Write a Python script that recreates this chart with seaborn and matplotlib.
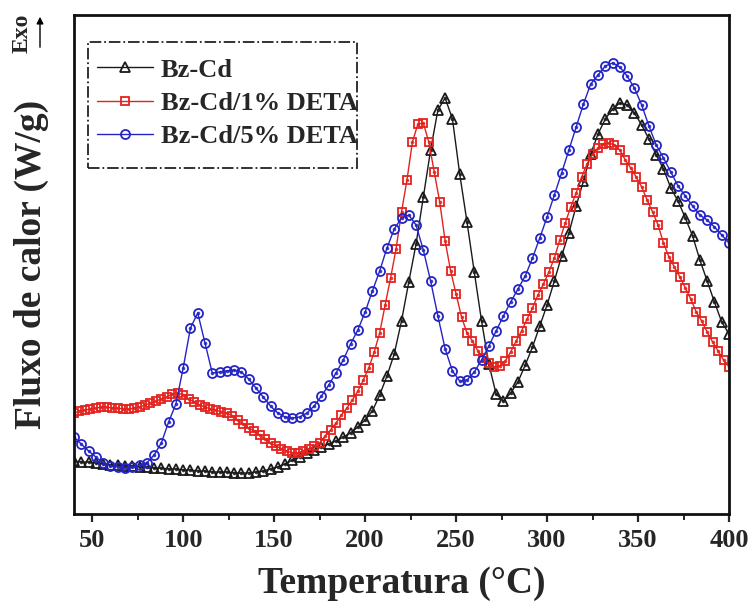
import numpy as np
import pandas as pd
import matplotlib
matplotlib.use("Agg")
import matplotlib.pyplot as plt
from matplotlib.patches import Rectangle, FancyArrowPatch
import seaborn as sns

# ---------------- data (arbitrary heat-flow units) ----------------
t_black = list(range(40, 401, 4))
y_black = [0.53, 0.52, 0.52, 0.51, 0.50, 0.49, 0.49, 0.48, 0.48, 0.47,
           0.47, 0.46, 0.46, 0.45, 0.45, 0.44, 0.44, 0.43, 0.43, 0.42,
           0.42, 0.42, 0.41, 0.41, 0.41, 0.42, 0.43, 0.45, 0.47, 0.50,
           0.54, 0.57, 0.61, 0.64, 0.67, 0.70, 0.73, 0.77, 0.81, 0.87,
           0.94, 1.03, 1.19, 1.38, 1.60, 1.93, 2.32, 2.70, 3.17, 3.64,
           4.04, 4.16, 3.95, 3.40, 2.92, 2.42, 1.93, 1.50, 1.20, 1.13,
           1.21, 1.32, 1.49, 1.67, 1.88, 2.09, 2.33, 2.58, 2.81, 3.08,
           3.33, 3.60, 3.80, 3.95, 4.05, 4.11, 4.09, 4.01, 3.89, 3.75,
           3.59, 3.45, 3.26, 3.13, 2.96, 2.78, 2.54, 2.33, 2.12, 1.92,
           1.80]

t_red = list(range(40, 401, 3))
y_red = [1.01, 1.03, 1.04, 1.05, 1.06, 1.07, 1.07, 1.06, 1.06, 1.05,
         1.05, 1.06, 1.07, 1.09, 1.11, 1.13, 1.15, 1.17, 1.20, 1.21,
         1.19, 1.15, 1.12, 1.09, 1.07, 1.05, 1.04, 1.02, 1.01, 0.98,
         0.94, 0.90, 0.86, 0.83, 0.79, 0.75, 0.71, 0.68, 0.65, 0.63,
         0.61, 0.61, 0.63, 0.65, 0.68, 0.71, 0.78, 0.84, 0.91, 0.99,
         1.06, 1.14, 1.23, 1.34, 1.46, 1.62, 1.81, 2.09, 2.36, 2.65,
         3.02, 3.34, 3.72, 3.90, 3.91, 3.72, 3.42, 3.12, 2.73, 2.43,
         2.20, 1.97, 1.81, 1.73, 1.63, 1.56, 1.51, 1.47, 1.48, 1.53,
         1.62, 1.73, 1.83, 1.95, 2.06, 2.19, 2.30, 2.42, 2.56, 2.74,
         2.91, 3.07, 3.21, 3.37, 3.50, 3.60, 3.66, 3.70, 3.71, 3.69,
         3.64, 3.54, 3.46, 3.37, 3.27, 3.14, 3.02, 2.89, 2.71, 2.57,
         2.47, 2.37, 2.26, 2.15, 2.02, 1.93, 1.82, 1.72, 1.63, 1.54,
         1.47]

t_blue = list(range(40, 401, 4))
y_blue = [0.77, 0.70, 0.63, 0.57, 0.51, 0.48, 0.47, 0.46, 0.47, 0.49,
          0.51, 0.59, 0.71, 0.92, 1.10, 1.46, 1.86, 2.01, 1.71, 1.41,
          1.42, 1.43, 1.44, 1.42, 1.35, 1.26, 1.17, 1.08, 1.01, 0.97,
          0.96, 0.97, 1.01, 1.08, 1.18, 1.29, 1.41, 1.54, 1.70, 1.84,
          2.02, 2.23, 2.43, 2.66, 2.85, 2.96, 2.99, 2.89, 2.64, 2.33,
          1.98, 1.65, 1.43, 1.33, 1.34, 1.42, 1.54, 1.68, 1.83, 1.98,
          2.12, 2.25, 2.38, 2.56, 2.76, 2.97, 3.19, 3.41, 3.64, 3.87,
          4.10, 4.30, 4.39, 4.48, 4.51, 4.47, 4.38, 4.26, 4.09, 3.88,
          3.69, 3.56, 3.42, 3.28, 3.18, 3.08, 2.99, 2.94, 2.87, 2.79,
          2.71]

labels = ["Bz-Cd", "Bz-Cd/1% DETA", "Bz-Cd/5% DETA"]
colors = ["#1a1a1a", "#e3221e", "#2424c4"]
markers = ["^", "s", "o"]

df = pd.concat([
    pd.DataFrame({"T": t_black, "Q": y_black, "amostra": labels[0]}),
    pd.DataFrame({"T": t_red, "Q": y_red, "amostra": labels[1]}),
    pd.DataFrame({"T": t_blue, "Q": y_blue, "amostra": labels[2]}),
])

# ---------------- style ----------------
sns.set_style("ticks")
plt.rcParams["font.family"] = ["Liberation Serif", "DejaVu Serif"]
plt.rcParams["font.weight"] = "bold"
plt.rcParams["axes.labelweight"] = "bold"

fig = plt.figure(figsize=(7.5, 6.06), dpi=100)
ax = fig.add_axes([74 / 750, 92 / 606, 655 / 750, 499 / 606])

msize = {"^": 6.5, "s": 6.0, "o": 6.5}
for lab, col, mk in zip(labels, colors, markers):
    sub = df[df["amostra"] == lab]
    sns.lineplot(data=sub, x="T", y="Q", ax=ax, color=col, marker=mk,
                 markersize=msize[mk], markerfacecolor="none",
                 markeredgecolor=col, markeredgewidth=1.3, linewidth=1.0,
                 label=lab, sort=False, estimator=None)
    # small centre dot inside each open marker, as in the reference
    ax.plot(sub["T"], sub["Q"], linestyle="none", marker="o", markersize=1.6,
            color=col, alpha=0.8)

ax.set_xlim(40, 400)
ax.set_ylim(0, 4.99)
ax.set_xticks(np.arange(50, 401, 50))
ax.set_xticks(np.arange(75, 400, 50), minor=True)
ax.set_yticks([])
ax.tick_params(axis="x", which="major", direction="out", length=6, width=1.6,
               labelsize=19, pad=5)
ax.tick_params(axis="x", which="minor", direction="out", length=4, width=1.4)
for lbl in ax.get_xticklabels():
    lbl.set_fontweight("bold")
for sp in ax.spines.values():
    sp.set_linewidth(2.0)
    sp.set_color("#111111")

ax.set_xlabel("Temperatura (°C)", fontsize=27, fontweight="bold", labelpad=10)
ax.set_ylabel("Fluxo de calor (W/g)", fontsize=27, fontweight="bold")
ax.yaxis.set_label_coords(-0.038, 0.50)

handles, _ = ax.get_legend_handles_labels()
leg = ax.legend(handles[:3], labels, loc="upper left",
                bbox_to_anchor=(0.0214, 0.932), frameon=False,
                borderaxespad=0.0, numpoints=1,
                handlelength=2.1, handletextpad=0.3, borderpad=0.35,
                labelspacing=0.375, prop={"size": 19, "weight": "bold"})
# dash-dot legend box
ax.add_patch(Rectangle((0.0214, 0.693), 0.4106, 0.253, transform=ax.transAxes,
                       fill=False, edgecolor="#222222", linestyle="-.",
                       linewidth=1.3, zorder=5))

# Exo arrow
fig.text(22 / 750, 1 - 33 / 606, "Exo", rotation=90, ha="center", va="center",
         fontsize=17, fontweight="bold")
fig.add_artist(FancyArrowPatch(
    (40 / 750, 1 - 50 / 606), (40 / 750, 1 - 14 / 606), transform=fig.transFigure,
    arrowstyle="-|>", mutation_scale=10, color="black", linewidth=1.0))

fig.savefig("out.png", dpi=100)
